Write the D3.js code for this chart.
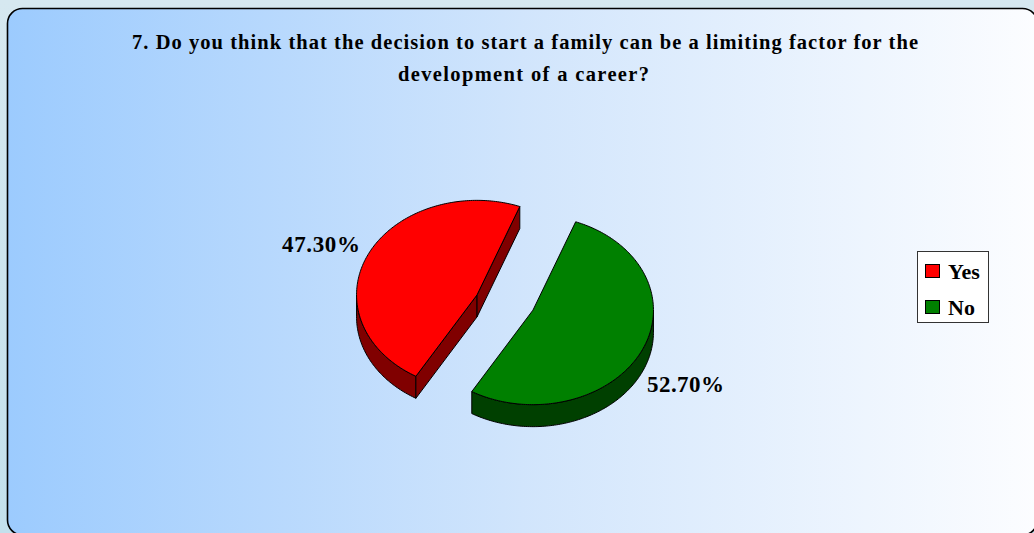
<!DOCTYPE html>
<html><head><meta charset="utf-8">
<script src="https://cdn.jsdelivr.net/npm/d3@7"></script>
<style>html,body{margin:0;padding:0;background:#cfe4ee;overflow:hidden}</style>
</head><body>
<svg id="c" width="1034" height="533"></svg>
<script>
// ---- data ----
const categories = ["Yes", "No"];
const values = [47.3, 52.7];
const valueLabels = ["47.30%", "52.70%"];
const titleLines = [
  "7. Do you think that the decision to start a family can be a limiting factor for the",
  "development of a career?"
];

// ---- styles / layout ----
const topColor = d3.scaleOrdinal().domain(categories).range(["#ff0000", "#008000"]);
const sideColor = d3.scaleOrdinal().domain(categories).range(["#800000", "#004000"]);
const FONT = "'Times New Roman','Liberation Serif',serif";
const W = 1034, H = 533;
const cx = 505, cy = 302.5, rx = 120.5, ry = 94.5, depth = 22;
const explode = 31, exKy = 0.57;
const deg = Math.PI / 180;

const svg = d3.select("#c");
const defs = svg.append("defs");
const bgGrad = defs.append("linearGradient").attr("id", "bg").attr("x1", "0").attr("x2", "1").attr("y1", "0").attr("y2", "0");
bgGrad.append("stop").attr("offset", "0").attr("stop-color", "#9ccbfe");
bgGrad.append("stop").attr("offset", "0.5").attr("stop-color", "#d1e5fc");
bgGrad.append("stop").attr("offset", "1").attr("stop-color", "#fcfdff");
const outGrad = defs.append("linearGradient").attr("id", "out").attr("x1", "0").attr("x2", "0").attr("y1", "0").attr("y2", "1");
outGrad.append("stop").attr("offset", "0").attr("stop-color", "#d6e8f0");
outGrad.append("stop").attr("offset", "1").attr("stop-color", "#c3e0ec");

svg.append("rect").attr("width", W).attr("height", H).attr("fill", "url(#out)");
svg.append("rect").attr("x", 7.5).attr("y", 8.5).attr("width", 1030).attr("height", 526.5)
  .attr("rx", 15).attr("ry", 15).attr("fill", "url(#bg)").attr("stroke", "#000").attr("stroke-width", 1.6);

// title
titleLines.forEach((t, i) => {
  svg.append("text").attr("x", i === 0 ? 132 : 398).attr("y", i === 0 ? 49 : 81)
    .attr("font-family", FONT).attr("font-weight", "bold").attr("font-size", 20.5)
    .attr("textLength", i === 0 ? 786 : 251).attr("lengthAdjust", "spacing")
    .attr("fill", "#000").text(t);
});

// pie
const pie = d3.pie().sort(null).value(d => d)
  .startAngle(210.5 * deg).endAngle(210.5 * deg + 2 * Math.PI);
const arcs = pie(values);

const line = d3.line();
function pt(ox, oy, a, dz) { return [ox + rx * Math.sin(a), oy - ry * Math.cos(a) + (dz || 0)]; }
function arcPts(ox, oy, a0, a1, dz) {
  const n = Math.max(2, Math.ceil(Math.abs(a1 - a0) / (1 * deg)));
  return d3.range(n + 1).map(i => pt(ox, oy, a0 + (a1 - a0) * i / n, dz));
}

const g = svg.append("g");
arcs.forEach((d, i) => {
  const cat = categories[i];
  const mid = (d.startAngle + d.endAngle) / 2;
  const ox = cx + explode * Math.sin(mid);
  const oy = cy - explode * Math.cos(mid) * exKy;
  const sg = g.append("g");
  // outer wall (front half: 90..270 deg)
  for (let n = -1; n <= 2; n++) {
    const lo = Math.max(d.startAngle, (90 + 360 * n) * deg);
    const hi = Math.min(d.endAngle, (270 + 360 * n) * deg);
    if (hi > lo) {
      const pts = arcPts(ox, oy, lo, hi, 0).concat(arcPts(ox, oy, hi, lo, depth));
      sg.append("path").attr("d", line(pts) + "Z")
        .attr("fill", sideColor(cat)).attr("stroke", "#000").attr("stroke-width", 1).attr("stroke-linejoin", "round");
    }
  }
  // radial cut faces
  [[d.startAngle, d.startAngle - Math.PI / 2], [d.endAngle, d.endAngle + Math.PI / 2]].forEach(([a, nrm]) => {
    if (Math.cos(nrm) < 0) {
      const p = pt(ox, oy, a, 0);
      const pts = [[ox, oy], p, [p[0], p[1] + depth], [ox, oy + depth]];
      sg.append("path").attr("d", line(pts) + "Z")
        .attr("fill", sideColor(cat)).attr("stroke", "#000").attr("stroke-width", 1).attr("stroke-linejoin", "round");
    }
  });
  // top face
  const topPts = [[ox, oy]].concat(arcPts(ox, oy, d.startAngle, d.endAngle, 0));
  sg.append("path").attr("d", line(topPts) + "Z")
    .attr("fill", topColor(cat)).attr("stroke", "#000").attr("stroke-width", 1).attr("stroke-linejoin", "round");
});

// data labels
const labelPos = [[282, 252, 78], [647, 392, 77]];
valueLabels.forEach((t, i) => {
  svg.append("text").attr("x", labelPos[i][0]).attr("y", labelPos[i][1])
    .attr("font-family", FONT).attr("font-weight", "bold").attr("font-size", 23)
    .attr("textLength", labelPos[i][2]).attr("lengthAdjust", "spacing")
    .attr("fill", "#000").text(t);
});

// legend
const lg = svg.append("g");
lg.append("rect").attr("x", 917.5).attr("y", 251.5).attr("width", 71).attr("height", 71)
  .attr("fill", "#ffffff").attr("stroke", "#333").attr("stroke-width", 1);
categories.forEach((c, i) => {
  const y0 = 264.5 + i * 36;
  lg.append("rect").attr("x", 925.5).attr("y", y0).attr("width", 14).attr("height", 13)
    .attr("fill", topColor(c)).attr("stroke", "#000").attr("stroke-width", 1);
  lg.append("text").attr("x", 948).attr("y", 279 + i * 36)
    .attr("font-family", FONT).attr("font-weight", "bold").attr("font-size", 22)
    .attr("fill", "#000").text(c);
});
</script>
</body></html>
